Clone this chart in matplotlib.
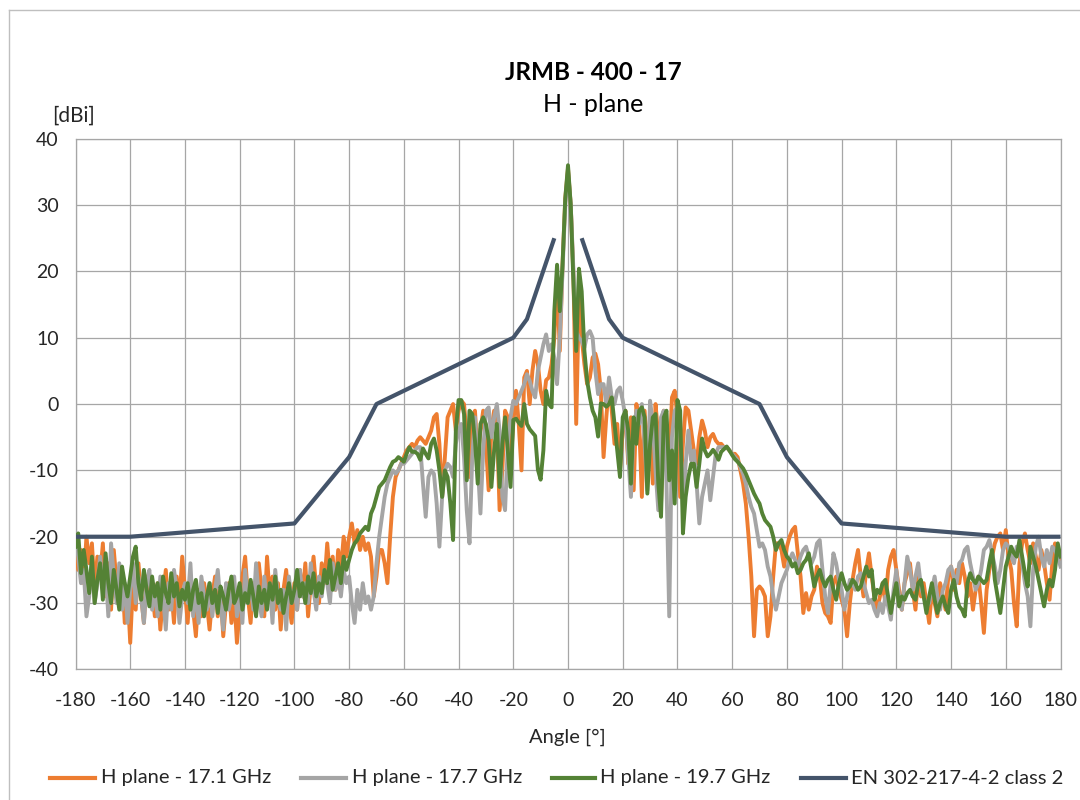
import numpy as np
import matplotlib
matplotlib.use("Agg")
import matplotlib.pyplot as plt
from matplotlib.lines import Line2D

plt.rcParams['font.family'] = ['Lato', 'DejaVu Sans']

# ---------------- data ----------------
angles = np.arange(-180, 181, 1)   # measurement angles [deg]

h171 = [
    # -180 .. -91
    -21, -25, -22, -27, -20, -24, -21, -28, -23, -26,
    -21, -29, -24, -31, -22, -27, -30, -25, -33, -28,
    -36, -27, -31, -24, -29, -33, -26, -30, -28, -32,
    -27, -34, -29, -25, -31, -28, -33, -26, -30, -23,
    -28, -33, -26, -31, -35, -28, -32, -27, -30, -34,
    -29, -26, -32, -28, -35, -30, -27, -33, -29, -36,
    -31, -26, -23, -29, -33, -27, -30, -24, -28, -32,
    -23, -29, -26, -31, -27, -34, -28, -25, -30, -33,
    -27, -31, -25, -29, -24, -32, -27, -23, -28, -30,
    # -90 .. -1
    -24, -27, -21, -26, -23, -28, -22, -25, -20, -23,
    -20, -18, -21, -19, -22, -20, -22, -21, -23, -29,
    -26, -22, -22, -24, -27, -20, -14, -11, -10, -9,
    -8, -7, -6.5, -6, -6.5, -5.5, -5, -5.5, -6, -5,
    -4, -2, -1.5, -6, -14, -8, -2, -1, 0, -4,
    -1, 0.5, 0, -5, -11, -2, -1, -8, -4, -1,
    -6, -13, -4, -1, -3, -16, -10, -1, -2, -9,
    -3, 2, -3, -10, 4, 5, 0, 5, 8, 6,
    2, 0, 3.6, 4, 6, 10, 19, 8, 21, 31,
    # 0
    35.5,
    # 1 .. 90
    30, 19, -3, 16, 10, 6, 3, 4, 7, 7.6,
    6, 2, -8, -2, 3, -1, -6, -3, -10, -4,
    -1, -9, -2, -13, 0, -3, -14, -1, -8, -2,
    -12, 0, -5, -15, -1, -6, -9, 1, 2, -2,
    -14, -6, -0.5, -1, -4, -7, -9, -5, -2.5, -4,
    -6.5, -5, -4.5, -5.5, -6, -6, -6.5, -6.5, -7, -7.5,
    -7.5, -8, -10, -12, -15, -20, -26, -35, -28, -27.5,
    -28, -29, -35, -32, -26, -21, -21, -22, -24.5, -21.5,
    -20, -19, -18.5, -22.5, -26, -31.5, -28.5, -31, -29, -28,
    # 91 .. 180
    -24.5, -26, -30, -31.5, -32, -33, -27, -26, -28, -29.5,
    -31, -35, -30, -26.5, -24, -22, -26, -29, -25, -22.5,
    -26, -29, -31, -29, -27, -30, -25, -23, -22, -25,
    -28, -31, -27, -25.5, -24, -28, -31, -26, -29, -27,
    -30, -33, -28, -30, -32, -27, -29, -31, -26, -24.5,
    -28, -25, -27, -24, -26, -29, -27, -31, -28, -26,
    -30, -34.5, -28, -25, -23, -21, -20, -19.5, -22, -19,
    -23, -25, -30, -33.5, -24, -21, -19.5, -22, -24, -21,
    -23, -25, -22, -24, -27, -29.5, -24, -21, -22, -23.5,
]

h177 = [
    # -180 .. -91
    -21, -23, -27, -25, -32, -29, -24, -30, -27, -23,
    -28, -25, -32, -21, -26, -30, -24, -31, -27, -33,
    -28, -24, -30, -26, -29, -33, -27, -25, -31, -28,
    -32, -26, -29, -34, -27, -31, -25, -28, -33, -29,
    -27, -30, -24, -32, -28, -33, -26, -29, -31, -27,
    -32, -28, -25, -30, -34, -27, -31, -29, -26, -32,
    -28, -33, -25, -30, -27, -31, -24, -29, -32, -26,
    -30, -27, -33, -25, -29, -31, -28, -34, -26, -30,
    -28, -31, -25, -29, -27, -30, -24, -28, -31, -26,
    # -90 .. -1
    -29, -25, -27, -30, -24, -28, -26, -29, -25, -27,
    -26, -30, -33, -28, -31, -27, -30, -29, -31, -29,
    -24, -20, -17, -14, -12, -11, -10, -10.5, -10, -9,
    -9, -8.5, -8, -7.5, -7, -6.5, -6.5, -12, -17, -11,
    -10, -10.5, -15, -21.5, -14, -10, -9, -9.5, -11, -6,
    -4, -3, -8, -16, -21, -8, -2, -9, -16.5, -7,
    -1, -0.5, -5, -2, 0, -4, -14, -16, -6, -2,
    0.5, 0, 1, 2, 3, 4.5, 3.5, 2, 1, 5,
    7, 9, 10.5, 8, 9, 7, 3, 10, 20, 30,
    # 0
    35,
    # 1 .. 90
    30, 20, 11, 10, 9.5, 8.5, 10.5, 11, 10, 5,
    1.5, 3, 3, 0, 4, 1, 0, 2, 2.5, 0.5,
    -2, -8, -14, -4, -1, -3, 0, -6, -13, 0.5,
    -3, -10, -16, -2, -1, -12, -32, -5, -1, -0.5,
    -5, -15.5, -9, -4, -8.5, -7, -12, -18, -14, -12,
    -10, -14.5, -11, -7.5, -6.5, -6.5, -6.5, -6.5, -7, -7.5,
    -8, -8.5, -9.5, -10.5, -12, -14, -15.5, -16.5, -19, -21.5,
    -21, -22, -24.5, -26, -29, -31, -29, -27, -26, -25,
    -23.5, -22.5, -23.5, -24.5, -23, -22, -21.5, -23, -24, -23,
    # 91 .. 180
    -21, -20.5, -25, -29, -31.5, -27, -22.5, -24, -26.5, -28,
    -31, -29, -26.5, -27, -28, -26, -25.5, -27, -28.5, -30,
    -29.5, -31, -32, -30, -31.5, -29, -30.5, -32.5, -28, -25,
    -29, -31, -27, -23, -25, -28, -26, -24, -27.5, -29,
    -30.5, -30, -28, -26, -29, -31, -28, -27, -25, -24.5,
    -26, -27, -24, -23.5, -22, -21.5, -24, -26, -28, -27,
    -25, -22, -21.5, -20.5, -22.5, -24.5, -27, -25, -22, -21,
    -21.5, -23, -24, -21.5, -22, -24, -27, -29, -33.5, -25,
    -21.5, -20, -23, -24.5, -22, -24, -21.5, -22, -23, -24.5,
]

h197 = [
    # -180 .. -91
    -21.5, -19.5, -25.5, -22, -25, -28.5, -23, -30, -26.5, -24,
    -29.5, -22.5, -27, -30, -25, -28, -31, -24.5, -27, -29,
    -26, -23, -21.5, -27, -29.5, -25, -28, -30.5, -26, -29,
    -27, -31, -26, -28.5, -30, -25.5, -29, -27, -30.5, -28,
    -29.5, -27, -31, -28, -26.5, -30, -28.5, -32, -29, -27,
    -30, -28, -31.5, -27.5, -29, -31, -28, -26, -30, -29,
    -27, -31, -28.5, -30, -26.5, -29, -32, -27.5, -30, -28,
    -31, -27, -29.5, -26, -30, -28, -31.5, -29, -27, -30,
    -28, -25, -29, -27, -30, -26, -28.5, -25.5, -29, -27,
    # -90 .. -1
    -28.5, -25, -27, -23.5, -28, -26, -24, -27, -23, -25,
    -23.5, -22, -21, -20.5, -19.5, -19, -18.5, -19, -16.5, -15.5,
    -14, -12.5, -12, -11.5, -10.5, -9.5, -8.7, -8.5, -8, -8.3,
    -8.7, -7.5, -6.5, -7.2, -7.2, -7.5, -8.4, -6.7, -7.5, -8.2,
    -6, -5.2, -7, -10, -14, -10, -11, -15, -20.5, -4,
    0.6, 0.6, -1.5, -11.5, -1, -1.5, -5.5, -12, -3, -2,
    -3, -5.5, -12.5, -7, -3, -12.5, -6, -2, -7, -12.5,
    -2.4, -2.2, -2.8, -3.3, 0, -3, -3.8, -4.3, -4.8, -9.9,
    -11.4, -7, 2, 0, -0.5, 14, 21, 14, 21, 31,
    # 0
    36,
    # 1 .. 90
    30, 18, 8, 20.4, 17, 8, 3.5, 1, -1, -2,
    -4.9, 0.1, 0, -0.4, 0, 1, -3, -7, -11, -2,
    -1, -4, -12, -2, -6, -1, -0.5, -2, -13.5, -6,
    -2, -1.5, -12, -17, -2, -1, -11.5, -7, -15, 0.6,
    -1, -19.5, -14, -11, -9, -9, -12.5, -9, -5.2, -7,
    -7.9, -7.5, -6.9, -7.5, -8.4, -7.2, -6.8, -6.4, -7, -7.7,
    -8.3, -8.7, -9.2, -9.7, -10.5, -11.5, -12.5, -13.5, -14.3, -15,
    -16.5, -17.5, -18, -18.5, -20, -22, -21, -20.5, -22, -23,
    -23.5, -24.5, -24, -25.5, -25, -24, -23.5, -22.5, -25, -27.5,
    # 91 .. 180
    -26, -25, -26.5, -27.5, -26.5, -26, -28, -29.5, -27, -25.5,
    -27, -28, -27.5, -26.5, -27, -28, -27.5, -26, -24.5, -26,
    -25, -29.5, -28, -28.5, -27, -26.5, -29, -31.5, -29, -27,
    -30.5, -29, -29.5, -28.5, -28, -29, -29.5, -27, -26.5, -29,
    -31.5, -29, -27, -29.5, -31.5, -30, -29, -30.5, -31.5, -28,
    -26.5, -29, -30.5, -31, -32, -27, -25.5, -26.5, -27, -26,
    -26.5, -27, -26.5, -24, -22, -26.5, -29, -31.5, -28, -24.5,
    -23, -21.5, -22.5, -23, -20.5, -23, -25.5, -27.5, -21.5, -23,
    -24.5, -26.5, -28.5, -30.5, -28, -26.5, -27.5, -25, -21, -23,
]

# EN 302 217-4-2 class 2 mask (two branches)
mask_left_angle = [-180, -160, -100, -80, -70, -20, -15, -5]
mask_left_gain = [-20, -20, -18, -8, 0, 10, 12.8, 25]
mask_right_angle = [5, 15, 20, 70, 80, 100, 160, 180]
mask_right_gain = [25, 12.8, 10, 0, -8, -18, -20, -20]

xticks = list(range(-180, 181, 20))
xtick_labels = [str(v) for v in xticks]
yticks = list(range(-40, 41, 10))
ytick_labels = [str(v) for v in yticks]

series_names = ['H plane - 17.1 GHz', 'H plane - 17.7 GHz',
                'H plane - 19.7 GHz', 'EN 302-217-4-2 class 2']
colors = ['#ED7D31', '#A5A5A5', '#548235', '#44546A']

assert len(h171) == len(angles) and len(h177) == len(angles) and len(h197) == len(angles)

# ---------------- figure ----------------
W, H = 1080, 800
fig = plt.figure(figsize=(W / 100, H / 100), dpi=100)
fig.patch.set_facecolor('white')

L, R, T, B = 75.5, 1060.5, 138.7, 669.4
ax = fig.add_axes([L / W, 1 - B / H, (R - L) / W, (B - T) / H])

ax.plot(angles, h171, color=colors[0], lw=2.8, zorder=3, solid_joinstyle='round')
ax.plot(angles, h177, color=colors[1], lw=2.8, zorder=4, solid_joinstyle='round')
ax.plot(angles, h197, color=colors[2], lw=2.8, zorder=5, solid_joinstyle='round')
ax.plot(mask_left_angle, mask_left_gain, color=colors[3], lw=3.0, zorder=6,
        solid_capstyle='butt', solid_joinstyle='round')
ax.plot(mask_right_angle, mask_right_gain, color=colors[3], lw=3.0, zorder=6,
        solid_capstyle='butt', solid_joinstyle='round')

ax.set_xlim(-180, 180)
ax.set_ylim(-40, 40)
ax.set_xticks(xticks)
ax.set_xticklabels(xtick_labels)
ax.set_yticks(yticks)
ax.set_yticklabels(ytick_labels)
ax.tick_params(length=0, labelsize=14, colors='#262626')
ax.tick_params(axis='x', pad=16)
ax.tick_params(axis='y', pad=12)
ax.grid(True, color='#A6A6A6', lw=0.9, zorder=0)
for s in ax.spines.values():
    s.set_color('#A6A6A6')
    s.set_linewidth(0.9)

# texts
fig.text(593 / W, 1 - 72 / H, 'JRMB - 400 - 17', ha='center', va='center',
         fontsize=17.5, fontweight='bold', color='#000000')
fig.text(593 / W, 1 - 104 / H, 'H - plane', ha='center', va='center',
         fontsize=18, color='#000000')
fig.text(74 / W, 1 - 116 / H, '[dBi]', ha='center', va='center',
         fontsize=15, color='#262626')
fig.text(567 / W, 1 - 737 / H, 'Angle [°]', ha='center', va='center',
         fontsize=14.5, color='#262626')

# legend (manual, single row)
leg_y = 1 - 778 / H
line_x = [(50, 95), (301, 346), (552, 595), (801, 846)]
text_x = [101, 352, 600, 851]
for (x0, x1), tx, c, name in zip(line_x, text_x, colors, series_names):
    fig.add_artist(Line2D([x0 / W, x1 / W], [leg_y, leg_y], color=c, lw=3.0,
                          transform=fig.transFigure))
    fig.text(tx / W, leg_y, name, ha='left', va='center', fontsize=14.5,
             color='#262626')

# chart-area border
fig.add_artist(Line2D([9 / W, 9 / W], [0, 1 - 10 / H], color='#BFBFBF', lw=1,
                      transform=fig.transFigure))
fig.add_artist(Line2D([9 / W, 1], [1 - 10 / H, 1 - 10 / H], color='#BFBFBF', lw=1,
                      transform=fig.transFigure))

fig.savefig('out.png', dpi=100)
